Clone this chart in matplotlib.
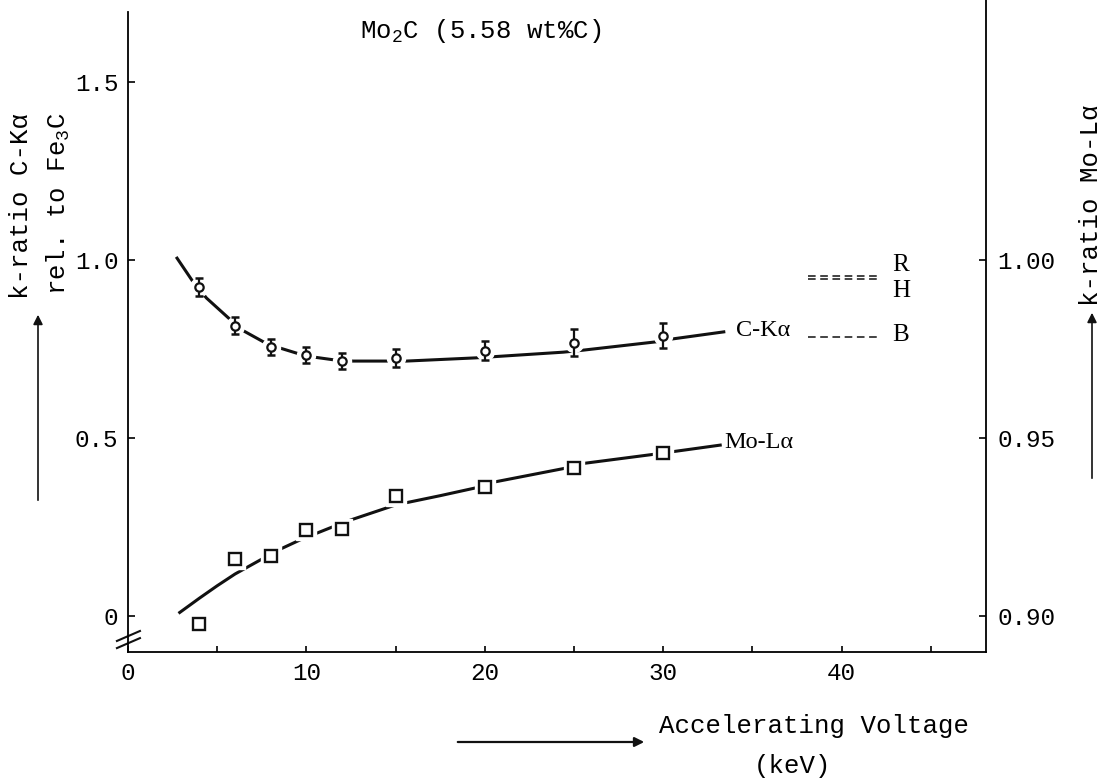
import numpy as np
import matplotlib
matplotlib.use("Agg")
import matplotlib.pyplot as plt

plt.rcParams['font.family'] = ['Liberation Mono', 'DejaVu Sans']

# measured points (keV)
voltage = [4, 6, 8, 10, 12, 15, 20, 25, 30]
ck_ratio = [0.924, 0.815, 0.756, 0.733, 0.716, 0.725, 0.745, 0.767, 0.787]
ck_err = [0.025, 0.024, 0.023, 0.022, 0.023, 0.025, 0.026, 0.038, 0.035]
mo_ratio = [0.8978, 0.9160, 0.9169, 0.9242, 0.9244, 0.9337, 0.9363, 0.9416, 0.9458]

# hand drawn fit curves
ck_curve_x = [2.75, 3.6, 4.4, 5.7, 6.4, 7.7, 8.3, 9.6, 10.3, 11.6, 12.6, 14.5,
              15.6, 19.5, 20.4, 24.4, 25.4, 29.6, 30.5, 33.4]
ck_curve_y = [1.005, 0.942, 0.893, 0.834, 0.803, 0.767, 0.756, 0.736, 0.728, 0.719,
              0.716, 0.716, 0.716, 0.725, 0.728, 0.741, 0.746, 0.770, 0.778, 0.798]
mo_curve_x = [2.9, 4, 5, 6, 7.4, 8.5, 9.7, 11.3, 12.5, 15, 17.5, 19.5, 20.6,
              24.4, 25.6, 29.6, 30.6, 33.2]
mo_curve_y = [0.9010, 0.9050, 0.9085, 0.9118, 0.9157, 0.9187, 0.9215, 0.9247, 0.9270,
              0.9312, 0.9338, 0.9360, 0.9377, 0.9414, 0.9429, 0.9455, 0.9462, 0.9480]

# reference values for C-Ka (R, H, B)
ref_names = ['R', 'H', 'B']
ref_levels = [0.956, 0.947, 0.784]
ref_label_y = [0.986, 0.913, 0.789]

W, H = 1107, 783
fig = plt.figure(figsize=(W / 100, H / 100), dpi=100)

def fx(px):
    return px / W

def fy(py):
    return 1 - py / H

ylo, yhi = -0.101, 1.730
ax = fig.add_axes([fx(128), fy(652), fx(986) - fx(128), fy(0) - fy(652)])
ax.set_xlim(0, 48.1)
ax.set_ylim(ylo, yhi)
ax.spines['top'].set_visible(False)
ax.spines['right'].set_visible(False)
ax.spines['left'].set_bounds(ylo, 1.697)
for s in ['left', 'bottom']:
    ax.spines[s].set_linewidth(1.3)
ax.set_xticks([0, 10, 20, 30, 40])
ax.set_xticks([5, 15, 25, 35, 45], minor=True)
ax.set_yticks([0, 0.5, 1.0, 1.5])
ax.set_yticklabels(['0', '0.5', '1.0', '1.5'])
ax.tick_params(which='both', direction='in', length=4, width=1.2, labelsize=17.5, pad=7)
ax.tick_params(axis='y', length=5)

ax2 = ax.twinx()
ax2.set_ylim(0.9 + 0.1 * ylo, 0.9 + 0.1 * yhi)
for s in ['top', 'left', 'bottom']:
    ax2.spines[s].set_visible(False)
ax2.spines['right'].set_linewidth(1.3)
ax2.set_yticks([0.90, 0.95, 1.00])
ax2.set_yticklabels(['0.90', '0.95', '1.00'])
ax2.tick_params(direction='in', length=5, width=1.2, labelsize=17.5, pad=8)

lc = '#111111'
# C-Ka
ax.plot(ck_curve_x, ck_curve_y, color=lc, lw=2.2, zorder=2)
ax.plot(voltage, ck_ratio, 'o', ms=13, mfc='white', mec='white', zorder=3)
ax.errorbar(voltage, ck_ratio, yerr=ck_err, fmt='none', ecolor=lc, elinewidth=1.6,
            capsize=3, capthick=1.8, zorder=4)
ax.plot(voltage, ck_ratio, 'o', ms=6, mfc='white', mec=lc, mew=1.6, zorder=5)

# Mo-La
ax2.plot(mo_curve_x, mo_curve_y, color=lc, lw=2.2, zorder=2)
ax2.plot(voltage, mo_ratio, 's', ms=15, mfc='white', mec='white', zorder=3)
ax2.plot(voltage, mo_ratio, 's', ms=8, mfc='white', mec=lc, mew=1.7, zorder=5)

ax.text(34.06, 0.803, 'C-Kα', family='Liberation Serif', fontsize=17.5, va='center', ha='left')
ax.text(33.45, 0.486, 'Mo-Lα', family='Liberation Serif', fontsize=17.5, va='center', ha='left')

for name, lev, ly in zip(ref_names, ref_levels, ref_label_y):
    ax.plot([38.1, 42.0], [lev, lev], color=lc, lw=1.1, ls=(0, (5, 3)))
    ax.text(42.86, ly, name, family='Liberation Serif', fontsize=18, va='center', ha='left')

# axis break marks
for yc in [-0.056, -0.076]:
    ax.plot([-0.62, 0.67], [yc - 0.014, yc + 0.014], color=lc, lw=1.5, clip_on=False)

# title
fig.text(fx(360), fy(38), r'Mo$_\mathregular{2}$C (5.58 wt%C)', fontsize=18.5,
         ha='left', va='baseline')

# left label
fig.text(fx(21), fy(206), 'k-ratio C-Kα', fontsize=18.5, rotation=90, ha='center', va='center')
fig.text(fx(58), fy(204), r'rel. to Fe$_\mathregular{3}$C', fontsize=18.5, rotation=90,
         ha='center', va='center')
fig.add_artist(matplotlib.patches.FancyArrowPatch(
    (fx(38), fy(503)), (fx(38), fy(312)), transform=fig.transFigure,
    arrowstyle='-|>', mutation_scale=14, lw=1.2, color=lc))

# right label
fig.text(fx(1091), fy(205), 'k-ratio Mo-Lα', fontsize=18.5, rotation=90, ha='center', va='center')
fig.add_artist(matplotlib.patches.FancyArrowPatch(
    (fx(1092), fy(481)), (fx(1092), fy(310)), transform=fig.transFigure,
    arrowstyle='-|>', mutation_scale=14, lw=1.2, color=lc))

# x label
fig.text(fx(659), fy(726), 'Accelerating Voltage', fontsize=18.5, ha='left', va='center')
fig.text(fx(792), fy(766), '(keV)', fontsize=18.5, ha='center', va='center')
fig.add_artist(matplotlib.patches.FancyArrowPatch(
    (fx(455), fy(742)), (fx(647), fy(742)), transform=fig.transFigure,
    arrowstyle='-|>', mutation_scale=14, lw=1.6, color=lc))

fig.savefig('out.png', dpi=100)
